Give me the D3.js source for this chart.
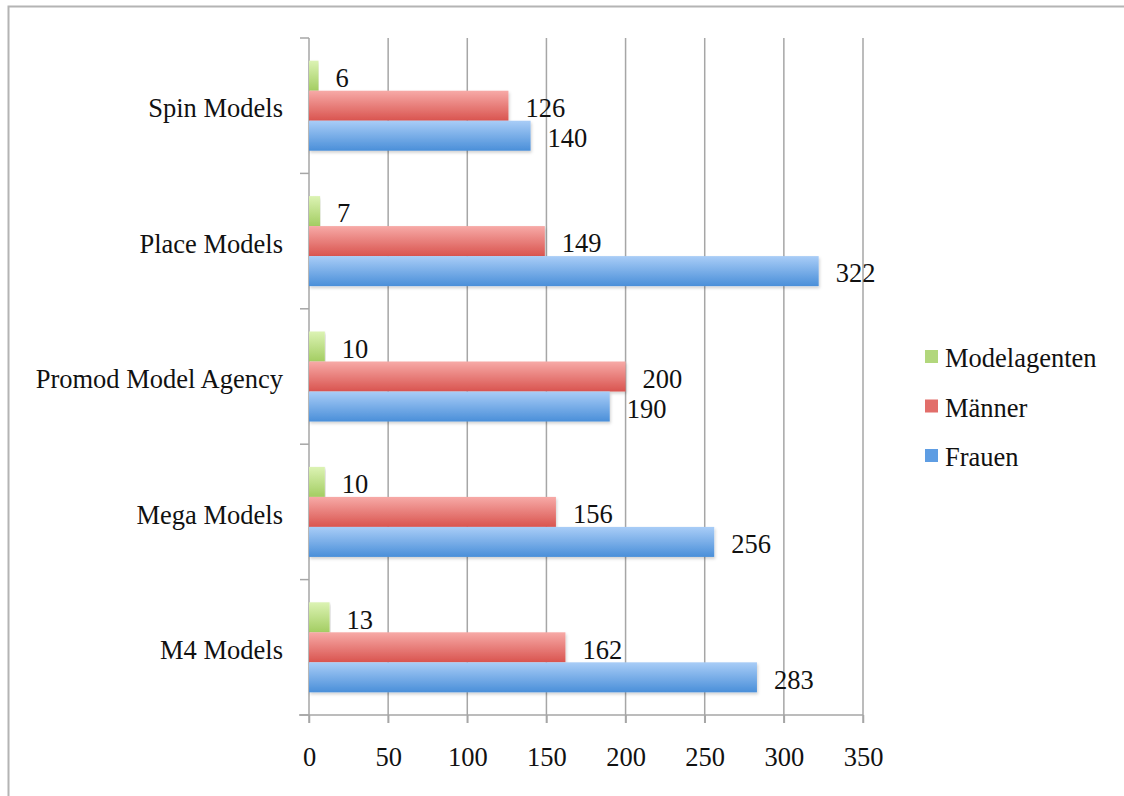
<!DOCTYPE html>
<html>
<head>
<meta charset="utf-8">
<script src="https://cdn.jsdelivr.net/npm/d3@7"></script>
<style>
  html, body { margin: 0; padding: 0; background: #fff; }
  svg { display: block; font-family: "Liberation Serif", "DejaVu Serif", serif; }
</style>
</head>
<body>
<svg id="chart" width="1124" height="796"></svg>
<script>
// categories (top to bottom) and series
const categories = ['Spin Models', 'Place Models', 'Promod Model Agency', 'Mega Models', 'M4 Models'];
const seriesNames = ['Modelagenten', 'Männer', 'Frauen'];
const modelagenten = [6, 7, 10, 10, 13];
const maenner = [126, 149, 200, 156, 162];
const frauen = [140, 322, 190, 256, 283];
const xTicks = [0, 50, 100, 150, 200, 250, 300, 350];

const seriesValues = [modelagenten, maenner, frauen];
const colors = [
  { top: '#dcf3b4', bottom: '#a3cd62', legend: '#b2d77c' },
  { top: '#f7aaa7', bottom: '#d9544f', legend: '#e26e6a' },
  { top: '#a9cdf7', bottom: '#4a8fd9', legend: '#5e9de3' }
];

const svg = d3.select('#chart');
const plotLeft = 309, plotRight = 863, plotTop = 38, plotBottom = 715;
const fs = 26.5;

const x = d3.scaleLinear().domain([0, 350]).range([plotLeft, plotRight]);
const y = d3.scaleBand().domain(categories).range([plotTop, plotBottom])
  .paddingInner(0.335).paddingOuter(0.1675);
const yInner = d3.scaleBand().domain(seriesNames).range([0, y.bandwidth()]);

// gradients + shadow
const defs = svg.append('defs');
colors.forEach((c, i) => {
  const g = defs.append('linearGradient').attr('id', 'grad' + i)
    .attr('x1', 0).attr('y1', 0).attr('x2', 0).attr('y2', 1);
  g.append('stop').attr('offset', '0%').attr('stop-color', c.top);
  g.append('stop').attr('offset', '100%').attr('stop-color', c.bottom);
});
const f = defs.append('filter').attr('id', 'shadow')
  .attr('x', '-5%').attr('y', '-20%').attr('width', '110%').attr('height', '150%');
f.append('feDropShadow').attr('dx', 1).attr('dy', 2).attr('stdDeviation', 1.5)
  .attr('flood-color', '#000').attr('flood-opacity', 0.18);

// frame
svg.append('path')
  .attr('d', 'M8.5,796 L8.5,6.5 L1124,6.5')
  .attr('fill', 'none').attr('stroke', '#b4b4b4').attr('stroke-width', 2);

// vertical grid
svg.append('g').selectAll('line').data(xTicks.slice(1)).join('line')
  .attr('x1', d => x(d)).attr('x2', d => x(d))
  .attr('y1', plotTop).attr('y2', plotBottom + 8)
  .attr('stroke', '#a6a6a6').attr('stroke-width', 1.5);

// x axis
const xAxis = svg.append('g').attr('transform', `translate(0,${plotBottom})`)
  .call(d3.axisBottom(x).tickValues(xTicks).tickSize(8).tickPadding(24).tickSizeOuter(0));
xAxis.select('.domain').remove();
xAxis.selectAll('.tick line').attr('stroke', '#a6a6a6').attr('stroke-width', 1.5);
xAxis.selectAll('.tick text').attr('font-size', fs).attr('fill', '#111')
  .attr('font-family', '"Liberation Serif", serif');
svg.append('line').attr('x1', 299).attr('x2', plotRight)
  .attr('y1', plotBottom).attr('y2', plotBottom)
  .attr('stroke', '#a6a6a6').attr('stroke-width', 1.5);

// y axis line + band boundary ticks
svg.append('line').attr('x1', plotLeft).attr('x2', plotLeft)
  .attr('y1', plotTop).attr('y2', plotBottom + 8)
  .attr('stroke', '#a6a6a6').attr('stroke-width', 1.5);
const bounds = categories.map(c => y(c) - y.step() * y.paddingOuter()).concat([plotBottom]);
svg.append('g').selectAll('line').data(bounds).join('line')
  .attr('x1', 300).attr('x2', plotLeft)
  .attr('y1', d => d).attr('y2', d => d)
  .attr('stroke', '#a6a6a6').attr('stroke-width', 1.5);

// category labels
svg.append('g').selectAll('text').data(categories).join('text')
  .attr('x', 283).attr('y', d => y(d) + y.bandwidth() / 2)
  .attr('dy', '0.44em').attr('text-anchor', 'end')
  .attr('font-size', fs).attr('fill', '#111').text(d => d);

// bars
const bars = [];
categories.forEach((c, ci) => {
  seriesNames.forEach((s, si) => {
    bars.push({ cat: c, series: s, si, value: seriesValues[si][ci] });
  });
});

svg.append('g').selectAll('rect').data(bars).join('rect')
  .attr('x', x(0))
  .attr('y', d => y(d.cat) + yInner(d.series))
  .attr('width', d => x(d.value) - x(0))
  .attr('height', yInner.bandwidth())
  .attr('fill', d => `url(#grad${d.si})`)
  .attr('filter', 'url(#shadow)');

// value labels
svg.append('g').selectAll('text').data(bars).join('text')
  .attr('x', d => x(d.value) + 17)
  .attr('y', d => y(d.cat) + yInner(d.series) + yInner.bandwidth() / 2 + 2)
  .attr('dy', '0.35em')
  .attr('font-size', fs).attr('fill', '#111').text(d => d.value);

// legend
const legend = svg.append('g').selectAll('g').data(seriesNames).join('g')
  .attr('transform', (d, i) => `translate(925,${367 + i * 49.5})`);
legend.append('rect').attr('x', 0).attr('y', -17).attr('width', 13).attr('height', 13)
  .attr('fill', (d, i) => colors[i].legend);
legend.append('text').attr('x', 20).attr('y', 0)
  .attr('font-size', fs).attr('fill', '#111').text(d => d);
</script>
</body>
</html>
